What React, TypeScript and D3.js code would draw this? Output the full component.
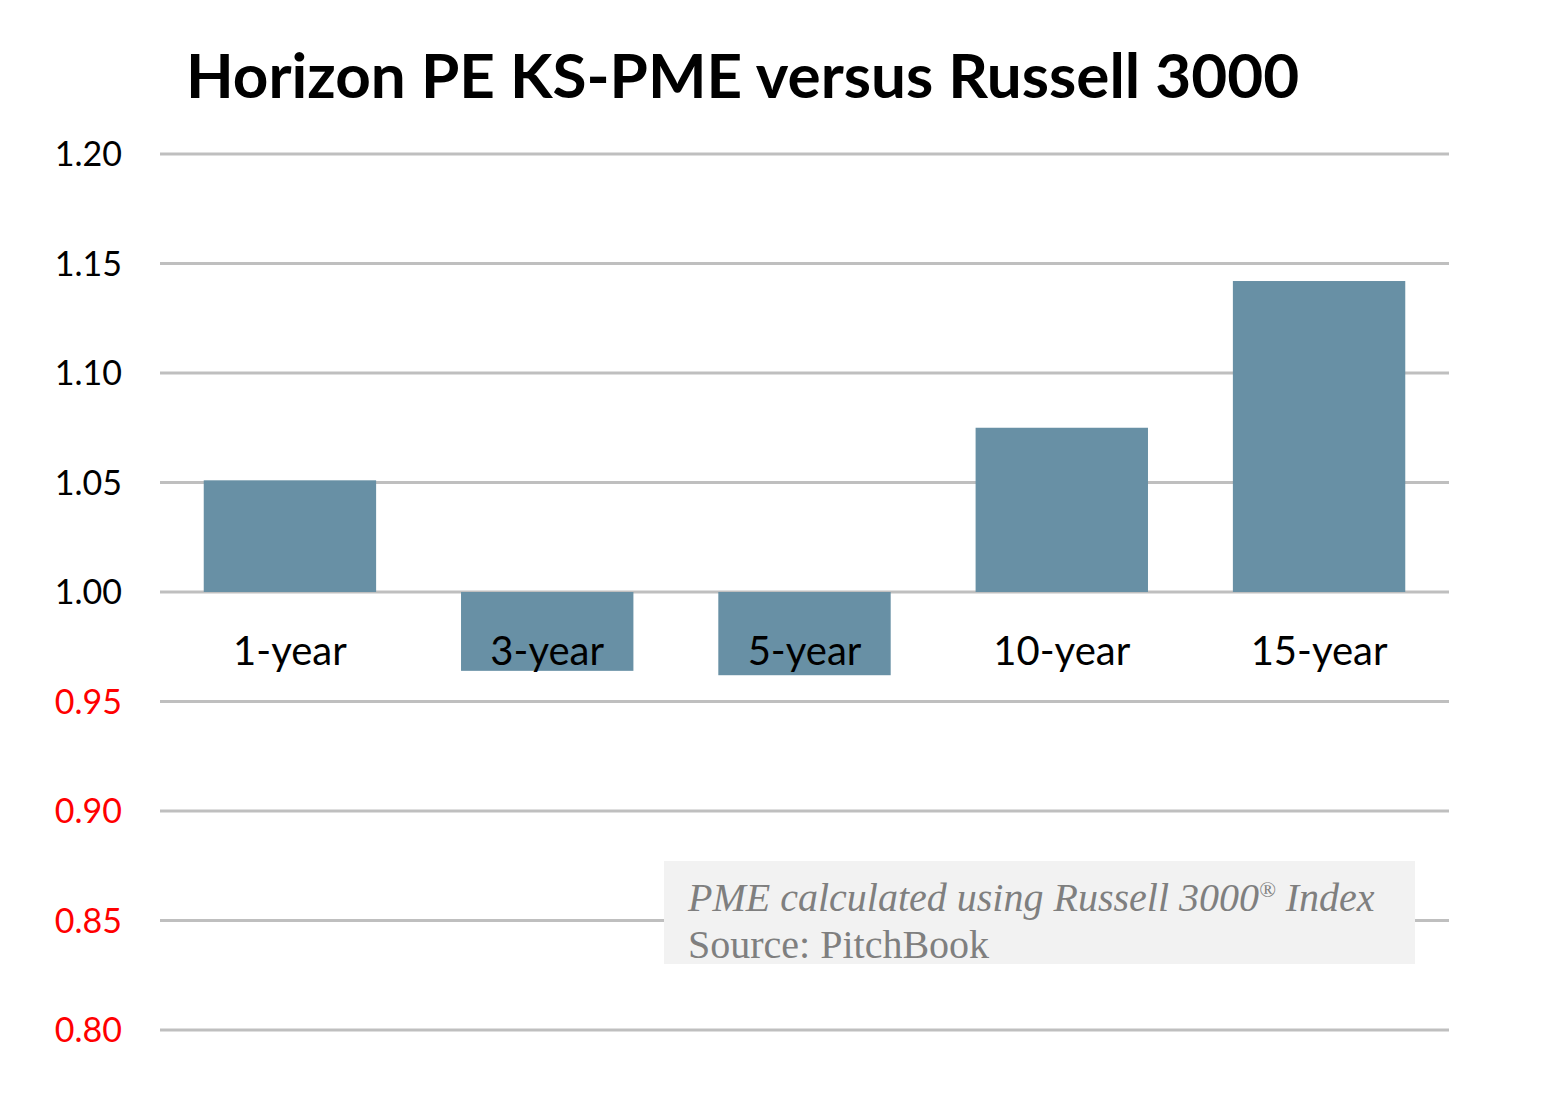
import React from "react";
import * as d3 from "d3";

const categories: string[] = ["1-year", "3-year", "5-year", "10-year", "15-year"];
const pmeValues: number[] = [1.051, 0.964, 0.962, 1.075, 1.142];
const yTickValues: number[] = [0.8, 0.85, 0.9, 0.95, 1.0, 1.05, 1.1, 1.15, 1.2];

const titleText = "Horizon PE KS-PME versus Russell 3000";
const noteLine1 = "PME calculated using Russell 3000";
const noteLine1End = " Index";
const noteLine2 = "Source: PitchBook";

export default function App() {
    const width = 1554;
    const height = 1102;
    const margin = { top: 154, right: 105, bottom: 72, left: 160 };

    const x = d3.scaleBand<string>()
        .domain(categories)
        .range([margin.left, width - margin.right])
        .paddingInner(0.33)
        .paddingOuter(0.17);

    const y = d3.scaleLinear([0.8, 1.2], [height - margin.bottom, margin.top]);
    const baseline = 1.0;

    const sans = "Lato, 'Noto Sans', sans-serif";
    const serif = "'Liberation Serif', 'Times New Roman', serif";

    return <svg width={width} height={height}
        style={{ position: "absolute", left: 0, top: 0, background: "#fff" }}>
        <text x={186} y={98} fontFamily={sans} fontWeight={700} fontSize={62} fill="#000">
            {titleText}
        </text>

        {/* Grid + y labels, below 1.00 in red */}
        <g>
            {yTickValues.map((t) => (
                <g key={t}>
                    <line x1={margin.left} x2={width - margin.right} y1={y(t)} y2={y(t)}
                        stroke="#bfbfbf" strokeWidth={3} />
                    <text x={122} y={y(t)} dy="0.36em" textAnchor="end"
                        fontFamily={sans} fontSize={34}
                        fill={t < baseline - 1e-9 ? "#ff0000" : "#000"}>
                        {t.toFixed(2)}
                    </text>
                </g>
            ))}
        </g>

        {/* Bars grow from 1.00 */}
        <g>
            {categories.map((c, i) => {
                const v = pmeValues[i];
                const y0 = y(Math.max(v, baseline));
                const y1 = y(Math.min(v, baseline));
                return <rect key={c} x={x(c)!} width={x.bandwidth()} y={y0} height={y1 - y0}
                    fill="#6890a5" />;
            })}
        </g>

        <g>
            {categories.map((c) => (
                <text key={c} x={x(c)! + x.bandwidth() / 2} y={665} textAnchor="middle"
                    fontFamily={sans} fontSize={40} fill="#000">
                    {c}
                </text>
            ))}
        </g>

        {/* Note box */}
        <rect x={664} y={861} width={751} height={103} fill="#f2f2f2" />
        <text x={688} y={911} fontFamily={serif} fontStyle="italic" fontSize={40} fill="#7f7f7f">
            {noteLine1}
            <tspan fontSize={22} dy={-14}>®</tspan>
            <tspan dy={14}>{noteLine1End}</tspan>
        </text>
        <text x={688} y={958} fontFamily={serif} fontSize={40} fill="#7f7f7f">
            {noteLine2}
        </text>
    </svg>;
}
